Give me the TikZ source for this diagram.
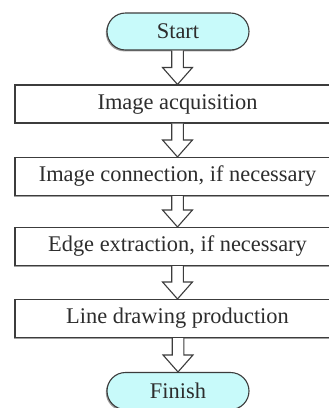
\documentclass[tikz,border=0pt]{standalone}
\usepackage{fontspec}
\setmainfont{Liberation Serif}
\usetikzlibrary{shadows,calc,shapes.misc}
\definecolor{edge}{RGB}{60,60,60}
\definecolor{ink}{RGB}{45,45,45}
\definecolor{capfill}{RGB}{200,250,250}
\tikzset{
  base/.style={draw=edge, line width=1.1pt, text=ink, font=\fontsize{22.4}{24}\selectfont,
    inner sep=0pt,
    drop shadow={shadow xshift=-1.2pt, shadow yshift=-1.4pt, fill=gray!75, opacity=1}},
  stepbox/.style={base, rectangle, fill=white, minimum width=325pt, minimum height=38pt},
  terminal/.style={base, rounded rectangle, fill=capfill, minimum width=142pt, minimum height=37pt},
  hollow/.style={draw=edge, line width=1.1pt, fill=white, line join=miter}
}
\begin{document}
\begin{tikzpicture}[x=1pt, y=-1pt]
  \useasboundingbox (0,0) rectangle (329,408);
  \fill[white] (0,0) rectangle (329,408);

  \node[terminal] (start) at (178,31.5) {Start};
  \node[stepbox] (acq)  at (177.5,104)   {Image acquisition};
  \node[stepbox] (conn) at (177.5,176.5) {Image connection, if necessary};
  \node[stepbox] (edge) at (177.5,246.5) {Edge extraction, if necessary};
  \node[stepbox] (line) at (177.5,318.5) {Line drawing production};
  \node[terminal] (finish) at (178,391) {Finish};

  % hollow block arrows between consecutive steps
  \foreach \a/\b in {start/acq, acq/conn, conn/edge, edge/line, line/finish}{
    \draw[hollow] let \p1=(\a.south), \p2=(\b.north) in
      (\x2-5.8pt,\y1) -- (\x2-5.8pt,\y2+17pt) -- (\x2-15pt,\y2+17pt)
      -- (\x2,\y2) -- (\x2+15pt,\y2+17pt) -- (\x2+5.8pt,\y2+17pt)
      -- (\x2+5.8pt,\y1);
  }
\end{tikzpicture}
\end{document}
